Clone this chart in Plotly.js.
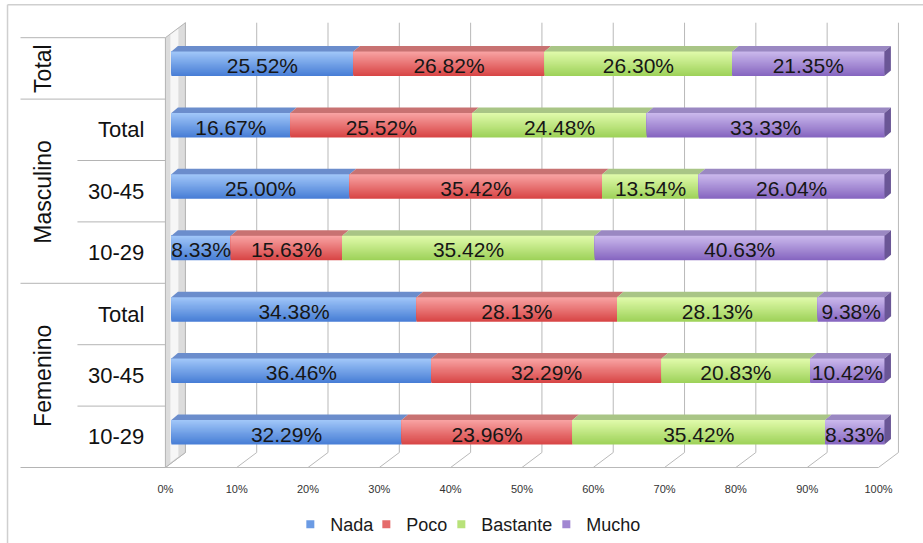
<!DOCTYPE html>
<html>
<head>
<meta charset="utf-8">
<script src="https://cdn.plot.ly/plotly-3.0.1.min.js"></script>
<style>
  html, body { margin: 0; padding: 0; background: #ffffff; }
  #chart { width: 923px; height: 543px; }
</style>
</head>
<body>
<div id="chart"></div>
<script>
// Survey answers by sex and age group (percent of respondents)
const groups = ['Total', 'Masculino', 'Masculino', 'Masculino', 'Femenino', 'Femenino', 'Femenino'];
const ages = ['', 'Total', '30-45', '10-29', 'Total', '30-45', '10-29'];
const seriesNames = ['Nada', 'Poco', 'Bastante', 'Mucho'];
const nada = [25.52, 16.67, 25.00, 8.33, 34.38, 36.46, 32.29];
const poco = [26.82, 25.52, 35.42, 15.63, 28.13, 32.29, 23.96];
const bastante = [26.30, 24.48, 13.54, 35.42, 28.13, 20.83, 35.42];
const mucho = [21.35, 33.33, 26.04, 40.63, 9.38, 10.42, 8.33];
const tickValues = [0, 10, 20, 30, 40, 50, 60, 70, 80, 90, 100];
const tickLabels = ['0%', '10%', '20%', '30%', '40%', '50%', '60%', '70%', '80%', '90%', '100%'];

const seriesValues = [nada, poco, bastante, mucho];

// Front-face gradient (top, bottom), top face and end face colours per series
const palette = [
  { top: [160, 198, 248], bottom: [72, 126, 214], lid: '#6b8dcc', side: '#4a6fb0' },
  { top: [248, 162, 162], bottom: [216, 70, 70], lid: '#c87272', side: '#a84a4a' },
  { top: [224, 250, 170], bottom: [158, 210, 90], lid: '#a9c586', side: '#86a85c' },
  { top: [202, 184, 236], bottom: [134, 102, 192], lid: '#9a88c2', side: '#6a5696' }
];
// Legend entry widths so the keys sit close together
const legendWidths = [31, 30, 60, 57];

// Page pixels of 0% and 100% on the bar plane, and the axis range that
// leaves room for the side walls and the bar end faces
const X0PX = 171, X100PX = 884.5, PT = 33.3, PB = 463.5;
const X_MIN = -1.6, X_MAX = 102.6;
const SC = (X100PX - X0PX) / 100;
const PL = X0PX + X_MIN * SC, PR = X100PX + (X_MAX - 100) * SC;
const rowPx = (PB - PT) / 7;
const px = x => (x - PL) / (PR - PL);
const py = y => (PB - y) / (PB - PT);
const ux = d => d / SC;                   // pixels -> x units
const uy = d => d / rowPx;                // pixels -> y units

const nRows = groups.length;
const rowPos = groups.map((_, i) => nRows - 1 - i);
const BAR_W = uy(24.5);
const DX = ux(6.5), DY = uy(5.5);

function rgb(c) { return 'rgb(' + c.map(v => Math.round(v)).join(',') + ')'; }
function mix(a, b, t) { return a.map((v, i) => v + (b[i] - v) * t); }

// Segment starts: running total of the preceding answers in each row
const starts = seriesValues.map((vals, s) =>
  vals.map((_, r) => seriesValues.slice(0, s).reduce((acc, arr) => acc + arr[r], 0)));

const traces = [];
const NB = 24;
// Each layer hangs from the top edge of the bar and is shorter and lighter
// than the one before it, which builds a vertical gradient on the front face.
seriesValues.forEach((vals, s) => {
  const pal = palette[s];
  for (let k = 0; k < NB; k++) {
    const h = BAR_W * (NB - k) / NB;
    traces.push({
      type: 'bar', orientation: 'h', x: vals, base: starts[s], y: rowPos,
      width: h, offset: BAR_W / 2 - h,
      marker: { color: rgb(mix(pal.bottom, pal.top, k / (NB - 1))), line: { width: 0 } },
      showlegend: false, hoverinfo: 'skip'
    });
  }
});

// Value labels on each segment
seriesValues.forEach((vals, s) => {
  traces.push({
    type: 'bar', orientation: 'h', x: vals, base: starts[s], y: rowPos,
    width: BAR_W, offset: -BAR_W / 2 - uy(2),
    marker: { color: 'rgba(0,0,0,0)', line: { width: 0 } },
    texttemplate: '%{x:.2f}%', textposition: 'inside', insidetextanchor: 'middle',
    textangle: 0, constraintext: 'none',
    insidetextfont: { family: 'Liberation Sans, Arial, sans-serif', size: 21, color: '#161616' },
    showlegend: false, hoverinfo: 'skip'
  });
});

// Legend entries
seriesNames.forEach((name, s) => {
  traces.push({
    type: 'scatter', mode: 'markers', x: [null], y: [null], name: name,
    legendwidth: legendWidths[s],
    marker: { symbol: 'square', size: 8, color: rgb(mix(palette[s].top, palette[s].bottom, 0.6)) },
    hoverinfo: 'skip'
  });
});

const shapes = [];
const grid = '#b9b9b9';

// Outer frame
shapes.push({ type: 'line', xref: 'paper', yref: 'paper', x0: px(7), x1: px(930), y0: py(5), y1: py(5),
  line: { color: '#cfcfcf', width: 1.5 } });
shapes.push({ type: 'line', xref: 'paper', yref: 'paper', x0: px(7), x1: px(7), y0: py(5), y1: py(560),
  line: { color: '#cfcfcf', width: 1.5 } });

// Back wall gridlines and floor ticks
tickValues.forEach(v => {
  shapes.push({ type: 'line', xref: 'x', yref: 'paper', layer: 'below',
    x0: v + ux(14), x1: v + ux(14), y0: py(453), y1: py(23), line: { color: grid, width: 1 } });
  shapes.push({ type: 'line', xref: 'x', yref: 'paper', layer: 'below',
    x0: v - ux(6), x1: v + ux(14), y0: py(468), y1: py(453), line: { color: grid, width: 1 } });
});
// Floor front edge
shapes.push({ type: 'line', xref: 'x', yref: 'paper', layer: 'below',
  x0: -ux(6), x1: 100 - ux(6), y0: py(468), y1: py(468), line: { color: grid, width: 1.2 } });

// Left side wall
const wx0 = -ux(6), wx1 = ux(14);
shapes.push({ type: 'path', xref: 'x', yref: 'paper', layer: 'below',
  path: `M${wx0},${py(38)} L${wx1},${py(23)} L${wx1},${py(453)} L${wx0},${py(468)} Z`,
  fillcolor: '#dcdcdc', line: { color: '#b4b4b4', width: 1 } });
shapes.push({ type: 'path', xref: 'x', yref: 'paper', layer: 'below',
  path: `M${wx0 + ux(5)},${py(35)} L${wx1 - ux(7)},${py(29)} L${wx1 - ux(7)},${py(457)} L${wx0 + ux(5)},${py(463)} Z`,
  fillcolor: '#f6f6f6', line: { width: 0 } });

// Category label table rules
const bound = i => 38 + 61.43 * i;
[0, 1, 4, 7].forEach(i => shapes.push({ type: 'line', xref: 'paper', yref: 'paper',
  x0: px(20), x1: px(165), y0: py(bound(i)), y1: py(bound(i)), line: { color: '#b4b4b4', width: 1 } }));
[2, 3, 5, 6].forEach(i => shapes.push({ type: 'line', xref: 'paper', yref: 'paper',
  x0: px(77), x1: px(165), y0: py(bound(i)), y1: py(bound(i)), line: { color: '#b4b4b4', width: 1 } }));

// Top faces of the segments and the right-hand end face of each bar
seriesValues.forEach((vals, s) => {
  vals.forEach((v, r) => {
    const x0 = starts[s][r], x1 = x0 + v, yt = rowPos[r] + BAR_W / 2;
    shapes.push({ type: 'path', xref: 'x', yref: 'y', layer: 'above',
      path: `M${x0},${yt} L${x1},${yt} L${x1 + DX},${yt + DY} L${x0 + DX},${yt + DY} Z`,
      fillcolor: palette[s].lid, line: { width: 0 } });
    if (s === seriesValues.length - 1) {
      const yb = rowPos[r] - BAR_W / 2;
      shapes.push({ type: 'path', xref: 'x', yref: 'y', layer: 'above',
        path: `M${x1},${yb} L${x1},${yt} L${x1 + DX},${yt + DY} L${x1 + DX},${yb + DY} Z`,
        fillcolor: palette[s].side, line: { width: 0 } });
    }
  });
});

// Row labels: outer groups rotated, inner age bands right-aligned
const annotations = [];
const labelFont = { family: 'Liberation Sans, Arial, sans-serif', color: '#111111' };
const outerSpans = [];
groups.forEach((g, i) => {
  if (i === 0 || groups[i - 1] !== g) outerSpans.push({ name: g, from: i, to: i });
  else outerSpans[outerSpans.length - 1].to = i;
});
outerSpans.forEach(sp => {
  annotations.push({ xref: 'paper', yref: 'paper', x: px(43), y: py((bound(sp.from) + bound(sp.to + 1)) / 2),
    text: sp.name, textangle: -90, showarrow: false, xanchor: 'center', yanchor: 'middle',
    font: Object.assign({ size: 23 }, labelFont) });
});
ages.forEach((a, i) => {
  if (!a) return;
  annotations.push({ xref: 'paper', yref: 'paper', x: px(146), y: py((bound(i) + bound(i + 1)) / 2),
    text: a, showarrow: false, xanchor: 'right', yanchor: 'middle',
    font: Object.assign({ size: 22 }, labelFont) });
});

const layout = {
  width: 923, height: 543,
  margin: { l: PL, r: 923 - PR, t: PT, b: 543 - PB, pad: 0, autoexpand: false },
  paper_bgcolor: '#ffffff', plot_bgcolor: 'rgba(0,0,0,0)',
  font: { family: 'Liberation Sans, Arial, sans-serif', color: '#333333' },
  barmode: 'overlay',
  xaxis: {
    range: [X_MIN, X_MAX], fixedrange: true, showgrid: false, zeroline: false, showline: false,
    tickmode: 'array', tickvals: tickValues, ticktext: tickLabels, ticks: '',
    tickfont: { size: 11, color: '#333333' }, ticklabelshift: -6, ticklabelstandoff: 18
  },
  yaxis: { range: [-0.5, nRows - 0.5], visible: false, fixedrange: true },
  showlegend: true,
  legend: {
    orientation: 'h', x: px(290), xanchor: 'left', y: py(525), yanchor: 'middle',
    font: { size: 18, color: '#1a1a1a' }, bgcolor: 'rgba(0,0,0,0)', itemclick: false, itemdoubleclick: false
  },
  shapes: shapes,
  annotations: annotations
};

Plotly.newPlot('chart', traces, layout, { staticPlot: true, displayModeBar: false });
</script>
</body>
</html>
